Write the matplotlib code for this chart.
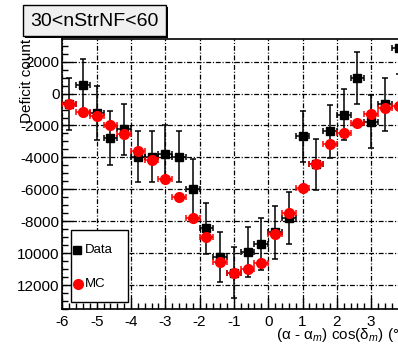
import matplotlib
matplotlib.use("Agg")
import matplotlib.pyplot as plt
from matplotlib.patches import Rectangle
from matplotlib.lines import Line2D
from matplotlib.ticker import MultipleLocator, FixedLocator, FixedFormatter

plt.rcParams['font.family'] = ['Liberation Sans', 'DejaVu Sans']
plt.rcParams['mathtext.fontset'] = 'custom'
plt.rcParams['mathtext.rm'] = 'Liberation Sans'
plt.rcParams['mathtext.it'] = 'Liberation Sans:italic'
plt.rcParams['axes.unicode_minus'] = False
plt.rcParams['lines.scale_dashes'] = False

# Bin centres of the (alpha - alpha_m) cos(delta_m) histogram
bin_centers = [-5.8, -5.4, -5.0, -4.6, -4.2, -3.8, -3.4, -3.0, -2.6, -2.2,
               -1.8, -1.4, -1.0, -0.6, -0.2, 0.2, 0.6, 1.0, 1.4, 1.8,
               2.2, 2.6, 3.0, 3.4, 3.8]
bin_half_width = 0.2

data_counts = [-670, 540, -1200, -2780, -2250, -3950, -3960, -3780, -3960, -5950,
               -8440, -10230, -11230, -9930, -9420, -8700, -7800, -2680, -4440, -2370,
               -1330, 980, -1750, -680, 2840]
data_errors = [1620, 1630, 1700, 1670, 1620, 1620, 1600, 1800, 1600, 1880,
               1590, 1570, 1600, 1590, 1640, 1650, 1640, 1600, 1600, 1650,
               1600, 1620, 1670, 1650, 1600]

mc_counts = [-670, -1135, -1400, -1970, -2510, -3600, -4160, -5350, -6480, -7780,
             -8970, -10540, -11270, -11010, -10620, -8800, -7500, -5940, -4430, -3180,
             -2490, -1820, -1300, -920, -780]

x_ticks = [-6, -5, -4, -3, -2, -1, 0, 1, 2, 3]
x_tick_labels = ["-6", "-5", "-4", "-3", "-2", "-1", "0", "1", "2", "3"]
y_ticks = [-12000, -10000, -8000, -6000, -4000, -2000, 0, 2000]
y_tick_labels = ["12000", "10000", "-8000", "-6000", "-4000", "-2000", "0", "2000"]

title_text = "30<nStrNF<60"
y_title = "Deficit count"
x_title = "(α - α$_{m}$) cos(δ$_{m}$) (°)"

W, H = 398, 344
fig = plt.figure(figsize=(W / 100, H / 100), dpi=100)


def fx(px):
    return px / W


def fy(py):
    return 1 - py / H


# Frame geometry in pixels (the frame runs past the right edge)
left_px, right_px = 62.4, 62.4 + 34.3 * 10
top_px, bottom_px = 38.7, 309.3
ax = fig.add_axes([fx(left_px), fy(bottom_px),
                   (right_px - left_px) / W, (bottom_px - top_px) / H])
ax.set_xlim(-6, 4)
ax.set_ylim(-13520, 3440)

grid_style = (0, (3.5, 1.3, 0.8, 1.3))
ax.grid(True, which='major', color='black', lw=0.9, linestyle=grid_style, zorder=0)
ax.set_axisbelow(True)

ax.xaxis.set_major_locator(FixedLocator(x_ticks))
ax.xaxis.set_major_formatter(FixedFormatter(x_tick_labels))
ax.xaxis.set_minor_locator(MultipleLocator(0.2))
ax.yaxis.set_major_locator(FixedLocator(y_ticks))
ax.yaxis.set_major_formatter(FixedFormatter(y_tick_labels))
ax.yaxis.set_minor_locator(MultipleLocator(500))

ax.tick_params(which='major', direction='in', length=8, width=1.0,
               top=False, right=False, labelsize=11, pad=2)
ax.tick_params(which='minor', direction='in', length=4, width=1.0,
               top=False, right=False)
ax.tick_params(axis='x', which='major', pad=4)
for s in ax.spines.values():
    s.set_linewidth(1.2)

ax.errorbar(bin_centers, data_counts, xerr=bin_half_width, yerr=data_errors,
            fmt='s', color='black', ms=6, elinewidth=1.1, capsize=2.5,
            capthick=1.1, zorder=3, clip_on=True)
ax.errorbar(bin_centers, mc_counts, xerr=bin_half_width,
            fmt='o', color='red', ms=7, elinewidth=1.1, capsize=2.5,
            capthick=1.1, zorder=4, clip_on=True)

# Title box with drop shadow
tb = (23.3, 5.0, 165.7, 36.0)
fig.patches.append(Rectangle((fx(tb[0] + 2), fy(tb[3] + 2)),
                             (tb[2] - tb[0]) / W, (tb[3] - tb[1]) / H,
                             transform=fig.transFigure, facecolor='black',
                             edgecolor='none', zorder=5))
fig.patches.append(Rectangle((fx(tb[0]), fy(tb[3])),
                             (tb[2] - tb[0]) / W, (tb[3] - tb[1]) / H,
                             transform=fig.transFigure, facecolor='#f0f0f0',
                             edgecolor='black', lw=1.0, zorder=6))
fig.text(fx((tb[0] + tb[2]) / 2), fy((tb[1] + tb[3]) / 2 + 0.5), title_text,
         ha='center', va='center', fontsize=14, zorder=7)

# Legend box with drop shadow
lb = (71.0, 230.0, 127.7, 301.5)
fig.patches.append(Rectangle((fx(lb[0] + 1.5), fy(lb[3] + 1.5)),
                             (lb[2] - lb[0]) / W, (lb[3] - lb[1]) / H,
                             transform=fig.transFigure, facecolor='black',
                             edgecolor='none', zorder=5))
fig.patches.append(Rectangle((fx(lb[0]), fy(lb[3])),
                             (lb[2] - lb[0]) / W, (lb[3] - lb[1]) / H,
                             transform=fig.transFigure, facecolor='white',
                             edgecolor='black', lw=1.0, zorder=6))
fig.lines.append(Line2D([fx(77)], [fy(250)], transform=fig.transFigure,
                        marker='s', color='black', ms=6, ls='none', zorder=7))
fig.lines.append(Line2D([fx(78)], [fy(284)], transform=fig.transFigure,
                        marker='o', color='red', ms=7, ls='none', zorder=7))
fig.text(fx(85), fy(250), "Data", ha='left', va='center', fontsize=9.5, zorder=7)
fig.text(fx(85), fy(284), "MC", ha='left', va='center', fontsize=9.5, zorder=7)

# Axis titles
fig.text(fx(27.5), fy(39), y_title, rotation=90, ha='center', va='top',
         fontsize=11)
fig.text(fx(276), fy(335.5), x_title, ha='left', va='center', fontsize=11)

fig.savefig("out.png", dpi=100)
